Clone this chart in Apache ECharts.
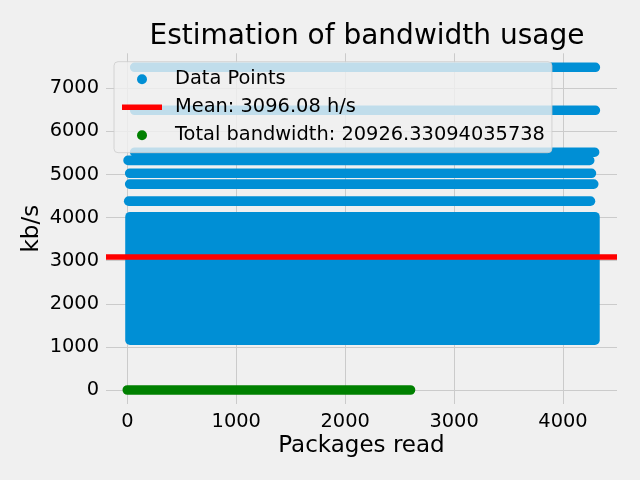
<!DOCTYPE html>
<html>
<head>
<meta charset="utf-8">
<script src="https://cdn.jsdelivr.net/npm/echarts@6/dist/echarts.min.js"></script>
<style>
html,body{margin:0;padding:0;background:#f0f0f0;}
#chart{width:640px;height:480px;}
</style>
</head>
<body>
<div id="chart"></div>
<script>
// ---- data ----
const xTicks = [0, 1000, 2000, 3000, 4000];
const yTicks = [0, 1000, 2000, 3000, 4000, 5000, 6000, 7000];

// isolated rows of data points (kb/s level, first and last package index)
const rowLevels = [7487, 6490, 5517, 5327, 5028, 4777, 4381];
const rowStart  = [68, 68, 68, 7, 22, 22, 13];
const rowEnd    = [4297, 4297, 4290, 4245, 4261, 4282, 4252];

// dense band of data points
const bandLow = 1155;
const bandHigh = 4021;
const bandStart = 25;
const bandEnd = 4293;

// total bandwidth points (near zero)
const totalLevel = 0;
const totalStart = 0;
const totalEnd = 2600;

const meanValue = 3096.08;
const totalBandwidth = '20926.33094035738';

// ---- chart ----
const markerR = 4.8;
const blue = '#008fd5';

const pointsData = rowLevels.map((lv, i) => [rowStart[i], rowEnd[i], lv, lv]);
pointsData.push([bandStart, bandEnd, bandLow, bandHigh]);
const totalData = [[totalStart, totalEnd, totalLevel, totalLevel]];

function renderRun(params, api) {
  const a = api.coord([api.value(0), api.value(3)]);
  const b = api.coord([api.value(1), api.value(2)]);
  const r = markerR;
  return {
    type: 'rect',
    shape: { x: a[0] - r, y: a[1] - r, width: b[0] - a[0] + 2 * r, height: b[1] - a[1] + 2 * r, r: r },
    style: { fill: api.visual('color') }
  };
}

const font = 'DejaVu Sans';
const chart = echarts.init(document.getElementById('chart'), null, { renderer: 'canvas' });
const meanName = 'Mean: ' + meanValue.toFixed(2) + ' h/s';
const totalName = 'Total bandwidth: ' + totalBandwidth;
const plain = v => String(v);

chart.setOption({
  backgroundColor: '#f0f0f0',
  animation: false,
  title: {
    text: 'Estimation of bandwidth usage',
    left: 362, textAlign: 'center',
    top: 18,
    textStyle: { fontFamily: font, fontSize: 28, fontWeight: 'normal', color: '#000' }
  },
  grid: { left: 106, right: 23, top: 53.3, bottom: 76, containLabel: false },
  legend: {
    orient: 'vertical',
    left: 114, top: 61.7,
    padding: [8, 7, 8, 8],
    itemGap: 9,
    itemWidth: 40, itemHeight: 10,
    backgroundColor: 'rgba(240,240,240,0.8)',
    borderColor: '#cccccc', borderWidth: 0.8, borderRadius: 4,
    textStyle: { fontFamily: font, fontSize: 19.4, color: '#000', padding: [0, 0, 0, 8] },
    data: [
      { name: 'Data Points', icon: 'circle', itemStyle: { color: blue } },
      { name: meanName, icon: 'path://M0,0 H40 V5.5 H0 Z', itemStyle: { color: '#ff0000' } },
      { name: totalName, icon: 'circle', itemStyle: { color: '#008000' } }
    ],
    z: 10
  },
  xAxis: {
    type: 'value', min: -195.5, max: 4495.6, splitNumber: 5,
    name: 'Packages read', nameLocation: 'middle', nameGap: 31, nameMoveOverlap: false,
    nameTextStyle: { fontFamily: font, fontSize: 23, color: '#000' },
    axisLine: { show: false }, axisTick: { show: false },
    axisLabel: { customValues: xTicks, formatter: plain, fontFamily: font, fontSize: 19.4, color: '#000', margin: 8 },
    splitLine: { show: true, showMinLine: false, showMaxLine: false, lineStyle: { color: '#cbcbcb', width: 1 } }
  },
  yAxis: {
    type: 'value', min: -325, max: 7812, splitNumber: 8,
    name: 'kb/s', nameLocation: 'middle', nameGap: 62, nameRotate: 90, nameMoveOverlap: false,
    nameTextStyle: { fontFamily: font, fontSize: 23, color: '#000' },
    axisLine: { show: false }, axisTick: { show: false },
    axisLabel: { customValues: yTicks, formatter: plain, fontFamily: font, fontSize: 19.4, color: '#000', margin: 7 },
    splitLine: { show: true, showMinLine: false, showMaxLine: false, lineStyle: { color: '#cbcbcb', width: 1 } }
  },
  series: [
    {
      name: 'Data Points', type: 'custom', renderItem: renderRun,
      encode: { x: [0, 1], y: [2, 3] },
      itemStyle: { color: blue },
      data: pointsData, z: 2
    },
    {
      name: meanName, type: 'line', data: [],
      itemStyle: { color: '#ff0000' },
      lineStyle: { color: '#ff0000', width: 5.5 },
      markLine: {
        silent: true, symbol: ['none', 'none'],
        label: { show: false },
        lineStyle: { color: '#ff0000', width: 5.5, type: 'solid' },
        data: [{ yAxis: meanValue }]
      },
      z: 3
    },
    {
      name: totalName, type: 'custom', renderItem: renderRun,
      encode: { x: [0, 1], y: [2, 3] },
      itemStyle: { color: '#008000' },
      data: totalData, z: 4
    }
  ]
});
</script>
</body>
</html>
